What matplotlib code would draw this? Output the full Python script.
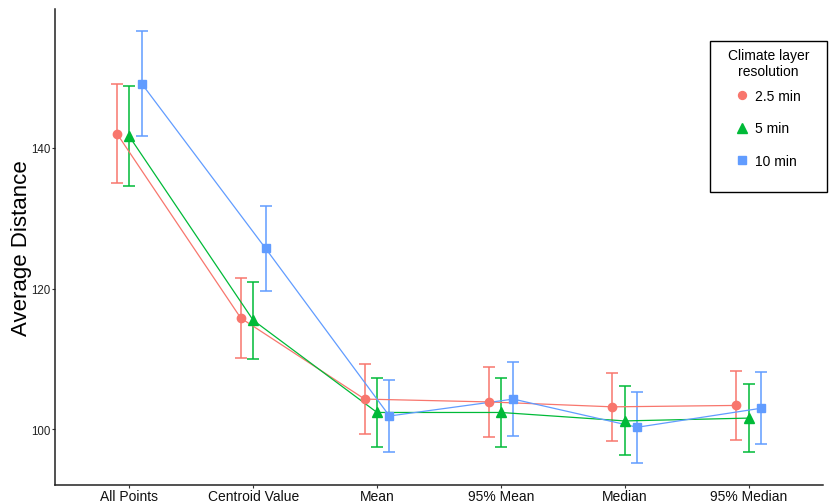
import matplotlib
matplotlib.use("Agg")
import matplotlib.pyplot as plt
from matplotlib.lines import Line2D
from matplotlib.patches import Rectangle
import numpy as np

plt.rcParams['font.family'] = ['Liberation Sans', 'DejaVu Sans']

# Summary statistics per location method and climate layer resolution
methods = ["All Points", "Centroid Value", "Mean", "95% Mean", "Median", "95% Median"]
resolutions = ["2.5 min", "5 min", "10 min"]

mean_2_5 = [142.0, 115.8, 104.3, 103.9, 103.2, 103.4]
err_2_5 = [7.0, 5.7, 5.0, 4.95, 4.85, 4.9]

mean_5 = [141.6, 115.5, 102.4, 102.4, 101.2, 101.6]
err_5 = [7.1, 5.5, 4.95, 4.95, 4.9, 4.85]

mean_10 = [149.1, 125.7, 101.9, 104.3, 100.3, 103.0]
err_10 = [7.5, 6.0, 5.15, 5.2, 5.05, 5.1]

series = [
    (resolutions[0], mean_2_5, err_2_5, "#F8766D", "o", 6.0),
    (resolutions[1], mean_5, err_5, "#00BA38", "^", 7.0),
    (resolutions[2], mean_10, err_10, "#619CFF", "s", 6.0),
]
offsets = [-0.1, 0.0, 0.1]

W, H, DPI = 837, 502, 100
fig = plt.figure(figsize=(W / DPI, H / DPI), dpi=DPI)
ax = fig.add_axes([55 / W, 1 - 486 / H, (823 - 55) / W, (486 - 10) / H])

x = np.arange(1, len(methods) + 1)
handles = []
for (label, means, errs, color, marker, ms), off in zip(series, offsets):
    xs = x + off
    ax.errorbar(xs, means, yerr=errs, fmt="none", ecolor=color,
                elinewidth=1.1, capsize=4.3, capthick=1.1, zorder=2)
    ax.plot(xs, means, color=color, lw=0.9, zorder=3)
    ax.plot(xs, means, linestyle="none", marker=marker, ms=ms,
            color=color, mec=color, zorder=4)
    handles.append(Line2D([], [], linestyle="none", marker=marker,
                          ms=ms * 0.95, color=color, mec=color, label=label))

ax.set_xlim(0.4, 6.6)
ax.set_ylim(92.1, 159.7)
ax.set_xticks(x)
ax.set_xticklabels(methods, fontsize=10, color="#111111")
ax.set_yticks([100, 120, 140])
ax.set_yticklabels(["100", "120", "140"], fontsize=8.3, color="#222222")
ax.tick_params(axis="both", length=2, width=0.8, color="#333333", pad=1)
ax.set_ylabel("Average Distance", fontsize=16, va="center")
ax.yaxis.set_label_coords((21.5 - 55) / 768, 0.5)

for side in ("top", "right"):
    ax.spines[side].set_visible(False)
for side in ("left", "bottom"):
    ax.spines[side].set_linewidth(1.1)
    ax.spines[side].set_color("#222222")

# Legend frame and entries
fig.patches.append(Rectangle((710 / W, 1 - 193 / H), (827 - 710) / W, (193 - 42) / H,
                             transform=fig.transFigure, fill=False,
                             edgecolor="black", linewidth=1.0))
leg = ax.legend(handles=handles, title="Climate layer\nresolution",
                loc="upper center", bbox_to_anchor=(768.5 / W, 1 - 49 / H),
                bbox_transform=fig.transFigure, frameon=False,
                fontsize=10, title_fontsize=10, borderpad=0, borderaxespad=0,
                handlelength=0.8, handletextpad=0.5, labelspacing=1.35)
leg.get_title().set_multialignment("center")
leg._legend_box.sep = 7.5

fig.savefig("out.png", dpi=DPI)
